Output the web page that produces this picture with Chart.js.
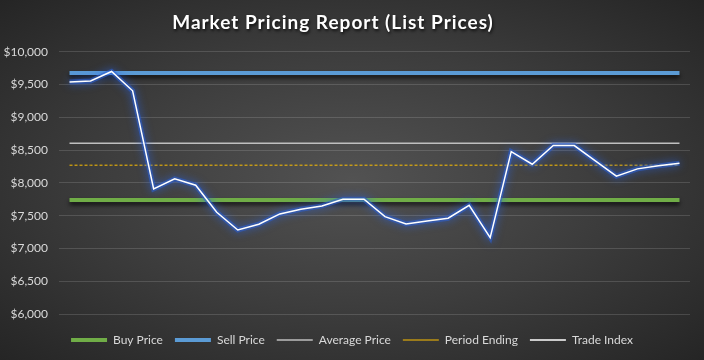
<!DOCTYPE html>
<html>
<head>
<meta charset="utf-8">
<script src="https://cdn.jsdelivr.net/npm/chart.js@4/dist/chart.umd.min.js"></script>
<style>
  html, body { margin: 0; padding: 0; }
  body {
    width: 704px; height: 360px; overflow: hidden;
    background: radial-gradient(ellipse farthest-corner at 50% 50%, #525252 0%, #3d3d3d 50%, #252525 100%);
  }
  canvas { display: block; }
</style>
</head>
<body>
<canvas id="chart" width="704" height="360"></canvas>
<script>
// periods along the x axis (no labels shown on the chart)
const periods = [
  'P1', 'P2', 'P3', 'P4', 'P5', 'P6', 'P7', 'P8', 'P9', 'P10',
  'P11', 'P12', 'P13', 'P14', 'P15', 'P16', 'P17', 'P18', 'P19', 'P20',
  'P21', 'P22', 'P23', 'P24', 'P25', 'P26', 'P27', 'P28', 'P29', 'P30',
];

const tradeIndex = [
  9540, 9555, 9700, 9405, 7908, 8061, 7965, 7553, 7282, 7369,
  7527, 7598, 7649, 7751, 7751, 7486, 7374, 7420, 7461, 7659,
  7165, 8478, 8285, 8570, 8570, 8336, 8102, 8214, 8260, 8300,
];

// flat reference levels
const BUY_PRICE = 7740;
const SELL_PRICE = 9675;
const AVERAGE_PRICE = 8605;
const PERIOD_ENDING = 8270;

const yTicks = [6000, 6500, 7000, 7500, 8000, 8500, 9000, 9500, 10000];

const FONT = 'Lato, "Open Sans", sans-serif';
const TEXT = '#d9d9d9';

const flat = v => periods.map(() => v);

// wrap a box's draw so it can be nudged / restyled
function patchDraw(box, dx, style) {
  if (!box || box._patched) return;
  const orig = box.draw;
  box.draw = function () {
    const ctx = this.ctx;
    ctx.save();
    ctx.translate(dx, 0);
    Object.assign(ctx, style);
    orig.apply(this, arguments);
    ctx.restore();
  };
  box._patched = true;
}

// shadow / glow under some lines, spaced + shadowed title
const shadowPlugin = {
  id: 'lineShadow',
  beforeDraw(chart) {
    patchDraw(chart.titleBlock, -12, {
      letterSpacing: '1px',
      shadowColor: 'rgba(0,0,0,0.7)',
      shadowOffsetX: 1,
      shadowOffsetY: 2,
      shadowBlur: 3,
    });
    patchDraw(chart.legend, 7, {});
  },
  beforeDatasetDraw(chart, args) {
    const ds = chart.data.datasets[args.index];
    const ctx = chart.ctx;
    ctx.save();
    if (ds.glow) {
      ctx.shadowColor = ds.glow;
      ctx.shadowBlur = 9;
    } else if (ds.dropShadow) {
      ctx.shadowColor = 'rgba(0,0,0,0.75)';
      ctx.shadowBlur = 4;
      ctx.shadowOffsetY = 3;
    }
  },
  afterDatasetDraw(chart) {
    chart.ctx.restore();
  },
};

const line = (label, data, color, width, extra) => Object.assign({
  label, data,
  borderColor: color,
  backgroundColor: color,
  borderWidth: width,
  pointRadius: 0,
  tension: 0,
  fill: false,
}, extra);

new Chart(document.getElementById('chart'), {
  type: 'line',
  data: {
    labels: periods,
    datasets: [
      line('Buy Price', flat(BUY_PRICE), '#70ad47', 4, { dropShadow: true, order: 5 }),
      line('Sell Price', flat(SELL_PRICE), '#5b9bd5', 4, { dropShadow: true, order: 4 }),
      line('Average Price', flat(AVERAGE_PRICE), '#bfbfbf', 1.5, { order: 3 }),
      line('Period Ending', flat(PERIOD_ENDING), '#ffc000', 1, { borderDash: [3, 2], order: 2 }),
      line('Trade Index', tradeIndex, '#ffffff', 1.5, { order: 0 }),
      line('glow', tradeIndex, 'rgba(45,95,205,0.6)', 5, { glow: 'rgba(40,100,235,1)', order: 1 }),
    ],
  },
  options: {
    responsive: false,
    animation: false,
    layout: { padding: { left: 0, right: 14, top: 0, bottom: 4 } },
    plugins: {
      tooltip: { enabled: false },
      title: {
        display: true,
        text: 'Market Pricing Report (List Prices)',
        color: '#ffffff',
        font: { family: FONT, size: 19, weight: 'bold' },
        padding: { top: 11, bottom: 18 },
      },
      legend: {
        position: 'bottom',
        labels: {
          color: TEXT,
          font: { family: FONT, size: 12 },
          usePointStyle: true,
          pointStyle: 'line',
          pointStyleWidth: 36,
          padding: 12,
          filter: item => item.text !== 'glow',
          sort: (a, b) => a.datasetIndex - b.datasetIndex,
        },
      },
    },
    scales: {
      x: {
        offset: true,
        afterFit: scale => { scale.height = 8; },
        ticks: { display: false },
        grid: { display: false },
        border: { display: false },
      },
      y: {
        min: 6000,
        max: 10000,
        afterFit: scale => { scale.width = 59; },
        afterBuildTicks: scale => { scale.ticks = yTicks.map(v => ({ value: v })); },
        border: { display: false },
        grid: { color: 'rgba(255,255,255,0.14)', drawTicks: false },
        ticks: {
          color: TEXT,
          padding: 11,
          font: { family: FONT, size: 12 },
          callback: v => '$' + v.toLocaleString('en-US'),
        },
      },
    },
  },
  plugins: [shadowPlugin],
});
</script>
</body>
</html>
